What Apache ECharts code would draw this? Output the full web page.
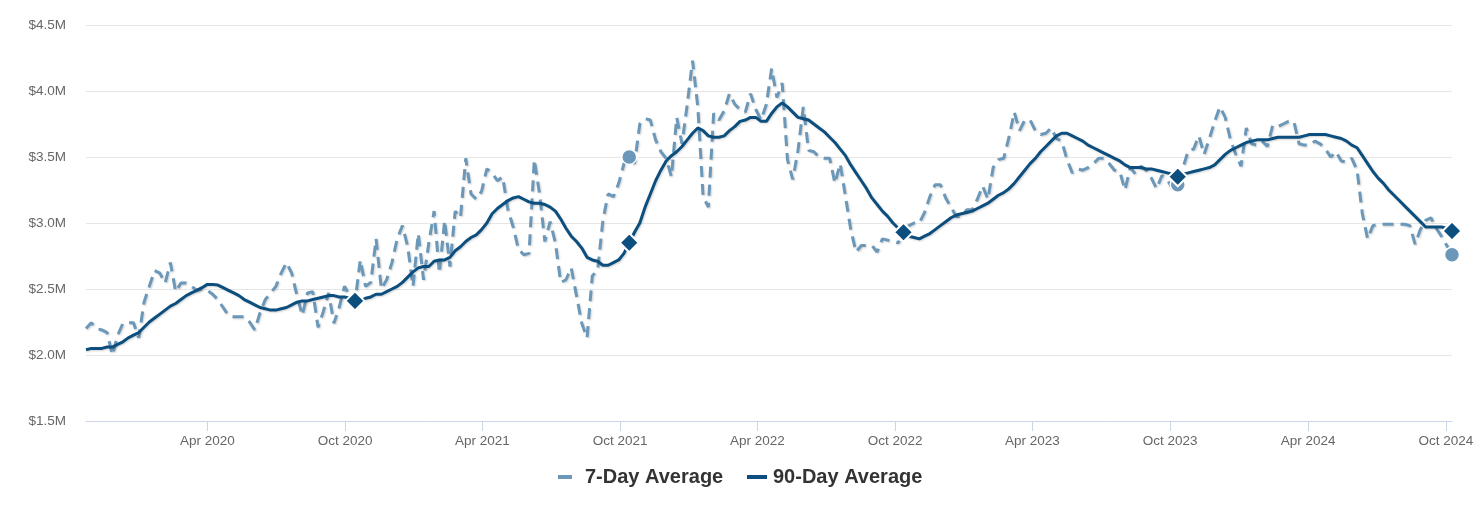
<!DOCTYPE html>
<html><head><meta charset="utf-8">
<script src="https://cdn.jsdelivr.net/npm/echarts@6/dist/echarts.min.js"></script>
<style>html,body{margin:0;padding:0;background:#fff}#c{width:1480px;height:510px}</style>
</head><body><div id="c"></div>
<script>
// weekly observations, first week starting 2019-10-23
const startDate = [2019, 9, 23];

// 7-Day Average, $ millions (weekly)
const sevenDay = [
2.20,2.245,2.20,2.19,2.17,2.00,2.15,2.24,2.245,2.245,
2.13,2.40,2.52,2.64,2.62,2.545,2.70,2.48,2.545,2.545,
2.52,2.49,2.50,2.49,2.46,2.42,2.36,2.30,2.29,2.29,
2.29,2.25,2.19,2.32,2.42,2.47,2.52,2.62,2.70,2.62,
2.45,2.30,2.47,2.48,2.21,2.33,2.47,2.24,2.36,2.52,
2.45,2.40,2.72,2.52,2.55,2.88,2.50,2.57,2.70,2.88,
2.98,2.82,2.52,2.92,2.57,2.85,3.09,2.62,3.02,2.67,
3.09,3.04,3.49,3.22,3.18,3.24,3.41,3.38,3.32,3.35,
3.10,2.97,2.80,2.76,2.77,3.48,3.22,2.86,3.01,2.85,
2.55,2.57,2.66,2.45,2.24,2.13,2.60,2.64,3.02,3.22,
3.20,3.30,3.45,3.50,3.45,3.75,3.79,3.78,3.63,3.54,
3.49,3.35,3.80,3.60,3.90,4.23,3.88,3.20,3.12,3.83,
3.78,3.85,3.98,3.90,3.86,3.84,3.98,3.86,3.78,3.90,
4.17,3.95,4.06,3.48,3.33,3.55,3.88,3.55,3.54,3.50,
3.49,3.49,3.30,3.45,3.20,2.95,2.78,2.83,2.83,2.83,
2.78,2.88,2.87,2.86,2.85,2.92,2.98,3.00,3.00,3.08,
3.20,3.29,3.29,3.19,3.12,3.05,3.05,3.10,3.10,3.18,
3.28,3.18,3.42,3.48,3.49,3.65,3.84,3.70,3.78,3.78,
3.70,3.67,3.68,3.72,3.64,3.62,3.48,3.38,3.41,3.40,
3.42,3.45,3.49,3.49,3.45,3.40,3.39,3.25,3.42,3.37,
3.43,3.40,3.34,3.26,3.36,3.33,3.26,3.29,3.42,3.55,
3.56,3.66,3.52,3.64,3.77,3.88,3.80,3.63,3.52,3.43,
3.72,3.60,3.59,3.62,3.58,3.74,3.73,3.75,3.77,3.77,
3.60,3.59,3.59,3.62,3.60,3.56,3.50,3.54,3.47,3.46,
3.49,3.40,3.07,2.88,2.98,2.99,2.99,2.99,2.99,2.99,
2.99,2.98,2.84,2.95,3.02,3.04,2.96,2.90,2.83,2.76
];

// 90-Day Average, $ millions (weekly)
const ninetyDay = [
2.04,2.05,2.05,2.05,2.06,2.06,2.08,2.10,2.13,2.15,
2.17,2.21,2.25,2.28,2.31,2.34,2.37,2.39,2.42,2.45,
2.47,2.49,2.51,2.535,2.535,2.53,2.51,2.49,2.47,2.45,
2.42,2.40,2.38,2.36,2.35,2.34,2.34,2.35,2.36,2.38,
2.40,2.41,2.41,2.42,2.43,2.44,2.45,2.45,2.44,2.44,
2.43,2.41,2.41,2.43,2.44,2.46,2.46,2.48,2.50,2.52,
2.55,2.59,2.63,2.66,2.67,2.67,2.71,2.72,2.72,2.74,
2.79,2.82,2.86,2.89,2.91,2.95,3.00,3.07,3.11,3.14,
3.17,3.19,3.20,3.18,3.16,3.15,3.15,3.14,3.12,3.09,
3.03,2.96,2.90,2.86,2.81,2.74,2.72,2.71,2.68,2.68,
2.70,2.72,2.77,2.85,2.93,3.00,3.12,3.22,3.32,3.40,
3.47,3.51,3.54,3.58,3.63,3.68,3.72,3.70,3.66,3.65,
3.65,3.66,3.70,3.73,3.77,3.78,3.80,3.80,3.77,3.77,
3.83,3.88,3.91,3.88,3.84,3.80,3.79,3.78,3.75,3.72,
3.69,3.65,3.61,3.56,3.51,3.44,3.38,3.32,3.26,3.19,
3.14,3.09,3.05,3.00,2.96,2.93,2.90,2.89,2.88,2.90,
2.92,2.95,2.98,3.01,3.04,3.06,3.07,3.08,3.09,3.11,
3.13,3.15,3.18,3.21,3.23,3.26,3.30,3.35,3.40,3.45,
3.49,3.54,3.58,3.62,3.66,3.68,3.68,3.66,3.64,3.62,
3.59,3.57,3.55,3.53,3.51,3.49,3.47,3.44,3.42,3.42,
3.42,3.41,3.41,3.40,3.39,3.38,3.37,3.35,3.37,3.38,
3.39,3.40,3.41,3.42,3.44,3.48,3.52,3.55,3.57,3.59,
3.61,3.62,3.63,3.63,3.63,3.64,3.65,3.65,3.65,3.65,
3.65,3.66,3.67,3.67,3.67,3.67,3.66,3.65,3.64,3.62,
3.59,3.57,3.51,3.45,3.39,3.34,3.30,3.25,3.21,3.17,
3.13,3.09,3.05,3.01,2.97,2.97,2.97,2.97,2.96,2.94
];

// weeks highlighted with markers (every 52 weeks back from the latest)
const markerIdx = [51, 103, 155, 207, 259];

// x-axis tick months [year, monthIndex]
const tickMonths = [[2020,3],[2020,9],[2021,3],[2021,9],[2022,3],[2022,9],[2023,3],[2023,9],[2024,3],[2024,9]];
const monthNames = ['Jan','Feb','Mar','Apr','May','Jun','Jul','Aug','Sep','Oct','Nov','Dec'];

const C7 = '#6b98b9';
const C90 = '#0c4f7f';
const FONT = '"Liberation Sans", Arial, sans-serif';

const dates = sevenDay.map((_, i) => new Date(startDate[0], startDate[1], startDate[2] + 7 * i).getTime());
const tickValues = tickMonths.map(([y, m]) => new Date(y, m, 1).getTime());

function build(vals, sym) {
  return vals.map((v, i) => markerIdx.includes(i)
    ? { value: [dates[i], v], symbol: sym.symbol, symbolSize: sym.size, itemStyle: sym.itemStyle }
    : [dates[i], v]);
}

const chart = echarts.init(document.getElementById('c'), null, { renderer: 'canvas' });
chart.setOption({
  animation: false,
  backgroundColor: '#fff',
  textStyle: { fontFamily: FONT },
  grid: { left: 86, right: 28, top: 25, bottom: 89 },
  legend: [
    {
      data: [{ name: '7-Day Average', icon: 'rect', itemStyle: { color: C7 } }],
      left: 558, top: 467, padding: 0, itemWidth: 14, itemHeight: 4, selectedMode: false,
      textStyle: { fontSize: 20, fontWeight: 'bold', color: '#333', fontFamily: FONT, padding: [0, 0, 0, 8] }
    },
    {
      data: [{ name: '90-Day Average', icon: 'rect', itemStyle: { color: C90 } }],
      left: 747, top: 467, padding: 0, itemWidth: 20, itemHeight: 4, selectedMode: false,
      textStyle: { fontSize: 20, fontWeight: 'bold', color: '#333', fontFamily: FONT, padding: [0, 0, 0, 1] }
    }
  ],
  xAxis: {
    type: 'value',
    min: dates[0],
    max: dates[dates.length - 1],
    axisLine: { show: true, onZero: false, lineStyle: { color: '#ccd6eb', width: 1 } },
    axisTick: { show: true, customValues: tickValues, length: 10, lineStyle: { color: '#ccd6eb' } },
    axisLabel: {
      customValues: tickValues,
      formatter: v => { const d = new Date(v); return monthNames[d.getMonth()] + ' ' + d.getFullYear(); },
      color: '#666', fontSize: 13.5, margin: 13, fontFamily: FONT
    },
    splitLine: { show: false }
  },
  yAxis: {
    type: 'value',
    min: 1.5, max: 4.5, interval: 0.5,
    axisLine: { show: false },
    axisTick: { show: false },
    axisLabel: {
      formatter: v => '$' + v.toFixed(1) + 'M',
      color: '#666', fontSize: 13.5, margin: 20, fontFamily: FONT, padding: [6, 0, 0, 0]
    },
    splitLine: { lineStyle: { color: '#e6e6e6', width: 1 } }
  },
  series: [
    {
      name: '7-Day Average',
      type: 'line',
      color: C7,
      symbol: 'none',
      emphasis: { disabled: true },
      lineStyle: { color: C7, width: 3, type: [11, 7], shadowColor: 'rgba(0,0,0,0.18)', shadowBlur: 2, shadowOffsetX: 1, shadowOffsetY: 1 },
      data: build(sevenDay, { symbol: 'circle', size: 15, itemStyle: { color: C7, borderColor: '#fff', borderWidth: 1.5, opacity: 1 } }),
      z: 2
    },
    {
      name: '90-Day Average',
      type: 'line',
      color: C90,
      symbol: 'none',
      emphasis: { disabled: true },
      lineStyle: { color: C90, width: 3, shadowColor: 'rgba(0,0,0,0.18)', shadowBlur: 2, shadowOffsetX: 1, shadowOffsetY: 1 },
      data: build(ninetyDay, { symbol: 'diamond', size: 19, itemStyle: { color: C90, borderColor: '#fff', borderWidth: 2, opacity: 1 } }),
      z: 3
    }
  ]
});
</script>
</body></html>
